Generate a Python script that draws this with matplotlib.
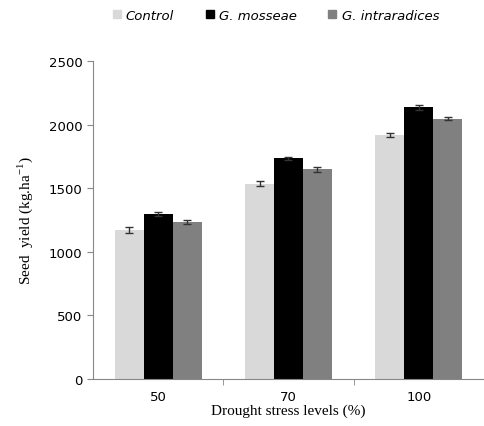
import matplotlib.pyplot as plt
import numpy as np
from matplotlib.patches import Patch

# data
levels = ["50", "70", "100"]
series = ["Control", "G. mosseae", "G. intraradices"]
control = [1170, 1535, 1920]
mosseae = [1297, 1735, 2135]
intraradices = [1232, 1648, 2045]
control_err = [25, 20, 15]
mosseae_err = [12, 12, 20]
intra_err = [15, 22, 12]

colors = ["#d9d9d9", "#000000", "#808080"]
values = [control, mosseae, intraradices]
errors = [control_err, mosseae_err, intra_err]

fig = plt.figure(figsize=(4.84, 4.27), dpi=100)
ax = fig.add_axes([0.192, 0.110, 0.808, 0.745])

x = np.arange(len(levels))
w = 0.222
for i, (vals, errs, c) in enumerate(zip(values, errors, colors)):
    ax.bar(x + (i - 1) * w, vals, width=w, color=c, zorder=2)
    ax.errorbar(x + (i - 1) * w, vals, yerr=errs, fmt="none", ecolor="#333333",
                elinewidth=1.0, capsize=3, capthick=1.0, zorder=3)

ax.set_xlim(-0.5, 2.5)
ax.set_ylim(0, 2500)
ax.set_yticks(range(0, 2501, 500))
ax.set_xticks(x)
ax.set_xticklabels(levels)
ax.set_xticks([0.5, 1.5], minor=True)
ax.tick_params(axis="x", which="major", length=0, pad=8, labelsize=9.5)
ax.tick_params(axis="x", which="minor", length=4, color="#888888", direction="out")
ax.tick_params(axis="y", length=4, color="#888888", labelsize=9.5)

for s in ["top", "right"]:
    ax.spines[s].set_visible(False)
for s in ["left", "bottom"]:
    ax.spines[s].set_color("#888888")

ax.set_xlabel("Drought stress levels (%)", family="Liberation Serif", fontsize=11, labelpad=0)
ax.set_ylabel("Seed  yield (kg.ha$^{\\mathregular{-1}}$)", family="Liberation Serif",
              fontsize=11, labelpad=10)

handles = [Patch(color=c, label=s) for c, s in zip(colors, series)]
fig.legend(handles=handles, loc="upper center", bbox_to_anchor=(0.57, 1.005), ncol=3,
           frameon=False, prop={"style": "italic", "size": 9.5}, handlelength=0.6,
           handleheight=0.6, handletextpad=0.4, columnspacing=2.4)

fig.savefig("out.png", dpi=100)
